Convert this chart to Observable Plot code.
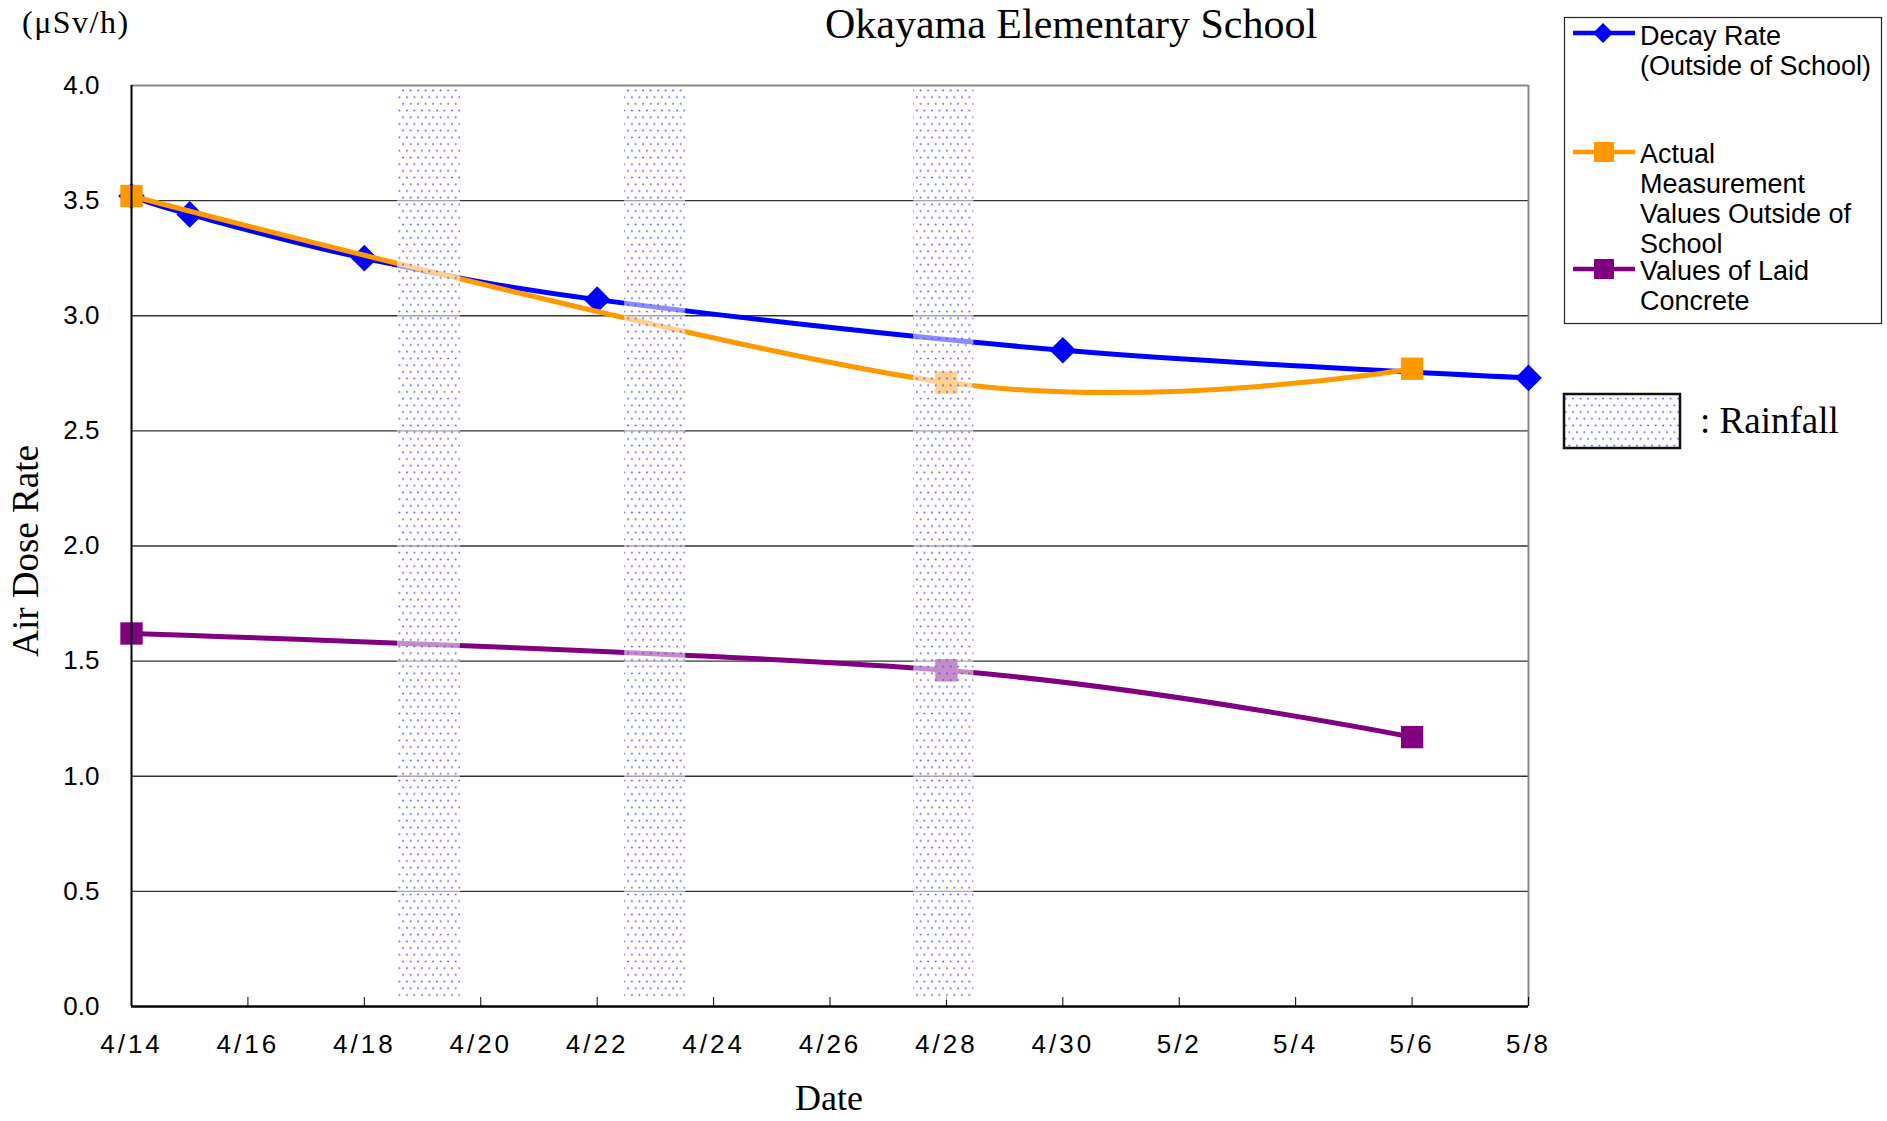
<!DOCTYPE html>
<html><head><meta charset="utf-8">
<script src="https://cdn.jsdelivr.net/npm/d3@7"></script>
<script src="https://cdn.jsdelivr.net/npm/@observablehq/plot@0.6"></script>
<style>
body{margin:0;background:#fff;}
#wrap{position:relative;width:1887px;height:1121px;overflow:hidden;background:#fff;}
#wrap > svg{position:absolute;left:0;top:0;}
</style></head><body><div id="wrap"></div>
<script>
// ---- data ----
const decayDates = ["2011-04-14","2011-04-15","2011-04-18","2011-04-22","2011-04-30","2011-05-08"];
const decayValues = [3.52, 3.44, 3.25, 3.07, 2.85, 2.73];
const measuredDates = ["2011-04-14","2011-04-28","2011-05-06"];
const measuredValues = [3.52, 2.71, 2.77];
const concreteDates = ["2011-04-14","2011-04-28","2011-05-06"];
const concreteValues = [1.62, 1.46, 1.17];
const rainStarts = ["2011-04-18T13:40","2011-04-22T11:20","2011-04-27T10:30"];
const rainEnds   = ["2011-04-19T15:40","2011-04-23T12:30","2011-04-28T11:20"];
const xTickLabels = ["4/14","4/16","4/18","4/20","4/22","4/24","4/26","4/28","4/30","5/2","5/4","5/6","5/8"];
const xTickDates = ["2011-04-14","2011-04-16","2011-04-18","2011-04-20","2011-04-22","2011-04-24","2011-04-26","2011-04-28","2011-04-30","2011-05-02","2011-05-04","2011-05-06","2011-05-08"];
const yTicks = [0, 0.5, 1.0, 1.5, 2.0, 2.5, 3.0, 3.5, 4.0];
const seriesNames = ["Decay Rate (Outside of School)", "Actual Measurement Values Outside of School", "Values of Laid Concrete"];
const seriesColors = ["#0000ff", "#ff9900", "#800080"];

const toDate = s => new Date((s.length > 10 ? s : s + "T00:00") + ":00Z");
const decay = decayDates.map((d, i) => ({date: toDate(d), value: decayValues[i]}));
const measured = measuredDates.map((d, i) => ({date: toDate(d), value: measuredValues[i]}));
const concrete = concreteDates.map((d, i) => ({date: toDate(d), value: concreteValues[i]}));
const rain = rainStarts.map((s, i) => ({start: toDate(s), end: toDate(rainEnds[i])}));
const xTicks = xTickDates.map(toDate);
const labelOf = new Map(xTicks.map((d, i) => [+d, xTickLabels[i]]));
const start = xTicks[0], end = xTicks[xTicks.length - 1];

const chart = Plot.plot({
  width: 1887, height: 1121,
  marginLeft: 131, marginRight: 359, marginTop: 85, marginBottom: 115,
  style: {fontFamily: "'Liberation Sans', Arial, sans-serif", fontSize: "26px", color: "#000", background: "transparent", overflow: "visible"},
  x: {type: "utc", domain: [start, end]},
  y: {domain: [0, 4]},
  marks: [
    Plot.gridY(yTicks.filter(v => v > 0 && v < 4), {stroke: "#333", strokeOpacity: 1, strokeWidth: 1.3}),
    Plot.ruleY([4], {stroke: "#888", strokeWidth: 2}),
    Plot.ruleX([end], {stroke: "#888", strokeWidth: 2}),
    Plot.ruleX(xTicks, {stroke: "#000", strokeWidth: 1, insetTop: 912}),
    Plot.axisY(yTicks, {tickSize: 0, tickPadding: 32, tickFormat: d3.format(".1f"), fontSize: 26, label: null}),
    Plot.axisX(xTicks, {tickSize: 0, tickPadding: 28, tickFormat: d => labelOf.get(+d), fontSize: 26, label: null, ariaLabel: "x-axis"}),
    Plot.line(decay, {x: "date", y: "value", stroke: seriesColors[0], strokeWidth: 5, curve: "cardinal"}),
    Plot.dot(decay, {x: "date", y: "value", symbol: "diamond2", r: 12, fill: seriesColors[0], stroke: "none"}),
    Plot.line(measured, {x: "date", y: "value", stroke: seriesColors[1], strokeWidth: 5, curve: "cardinal"}),
    Plot.dot(measured, {x: "date", y: "value", symbol: "square", r: 12.6, fill: seriesColors[1], stroke: "none"}),
    Plot.line(concrete, {x: "date", y: "value", stroke: seriesColors[2], strokeWidth: 5, curve: "cardinal"}),
    Plot.dot(concrete, {x: "date", y: "value", symbol: "square", r: 12.6, fill: seriesColors[2], stroke: "none"}),
    Plot.rect(rain, {x1: "start", x2: "end", insetTop: 4, insetBottom: 6, fill: "url(#rainPattern)"}),
    Plot.ruleY([0], {stroke: "#000", strokeWidth: 2.5}),
    Plot.ruleX([start], {stroke: "#000", strokeWidth: 2})
  ]
});

// wider x tick labels, like the reference
d3.select(chart).selectAll("g[aria-label^='x-axis'] text").style("letter-spacing", "3px");

// pattern definition
function addPattern(svgSel) {
  const defs = svgSel.insert("defs", ":first-child");
  const p = defs.append("pattern").attr("id", "rainPattern").attr("patternUnits", "userSpaceOnUse")
    .attr("width", 7.5).attr("height", 13.4);
  p.append("rect").attr("width", 7.5).attr("height", 13.4).attr("fill", "#fff").attr("fill-opacity", 0.55);
  p.append("circle").attr("cx", 1.9).attr("cy", 3.35).attr("r", 1.05).attr("fill", "#4a4aff").attr("fill-opacity", 0.85);
  p.append("circle").attr("cx", 5.65).attr("cy", 10.05).attr("r", 1.05).attr("fill", "#4a4aff").attr("fill-opacity", 0.85);
}
addPattern(d3.select(chart));
document.getElementById("wrap").appendChild(chart);

// overlay for titles and legend
const ov = d3.select("#wrap").append("svg").attr("width", 1887).attr("height", 1121)
  .style("font-family", "'Liberation Sans', Arial, sans-serif");
addPattern(ov.append("g").attr("id", "ovdefs"));
const serif = "'Liberation Serif', 'Times New Roman', serif";

ov.append("text").attr("x", 1071).attr("y", 38).attr("text-anchor", "middle")
  .style("font-family", serif).style("font-size", "42px").text("Okayama Elementary School");
ov.append("text").attr("x", 22).attr("y", 33)
  .style("font-family", serif).style("font-size", "32px").style("letter-spacing", "1.5px").text("(μSv/h)");
ov.append("text").attr("transform", "translate(38,551) rotate(-90)").attr("text-anchor", "middle")
  .style("font-family", serif).style("font-size", "37px").text("Air Dose Rate");
ov.append("text").attr("x", 829).attr("y", 1110).attr("text-anchor", "middle")
  .style("font-family", serif).style("font-size", "36px").text("Date");

// legend box
ov.append("rect").attr("x", 1564.5).attr("y", 17.5).attr("width", 317).attr("height", 306)
  .attr("fill", "#fff").attr("stroke", "#222").attr("stroke-width", 1.2);
const legendLines = [
  ["Decay Rate", "(Outside of School)"],
  ["Actual", "Measurement", "Values Outside of", "School"],
  ["Values of Laid", "Concrete"]
];
const legendY = [33, 152, 269];
const legendBase = [45, 163, 280];
const legendSymbols = ["diamond", "square", "square"];
legendLines.forEach((lines, i) => {
  const g = ov.append("g");
  g.append("line").attr("x1", 1573).attr("x2", 1635).attr("y1", legendY[i]).attr("y2", legendY[i])
    .attr("stroke", seriesColors[i]).attr("stroke-width", 4.5);
  if (legendSymbols[i] === "diamond") {
    g.append("path").attr("d", `M1603,${legendY[i]-10}L1613,${legendY[i]}L1603,${legendY[i]+10}L1593,${legendY[i]}Z`).attr("fill", seriesColors[i]);
  } else {
    g.append("rect").attr("x", 1594).attr("y", legendY[i]-10).attr("width", 20).attr("height", 20).attr("fill", seriesColors[i]);
  }
  lines.forEach((t, j) => {
    g.append("text").attr("x", 1640).attr("y", legendBase[i] + 30 * j).style("font-size", "27px").text(t);
  });
});
// rainfall legend
ov.append("rect").attr("x", 1564).attr("y", 394).attr("width", 116).attr("height", 54)
  .attr("fill", "url(#rainPattern)").attr("stroke", "#111").attr("stroke-width", 2.5);
ov.append("text").attr("x", 1700).attr("y", 433).style("font-family", serif).style("font-size", "37px").text(": Rainfall");
</script>
</body></html>
